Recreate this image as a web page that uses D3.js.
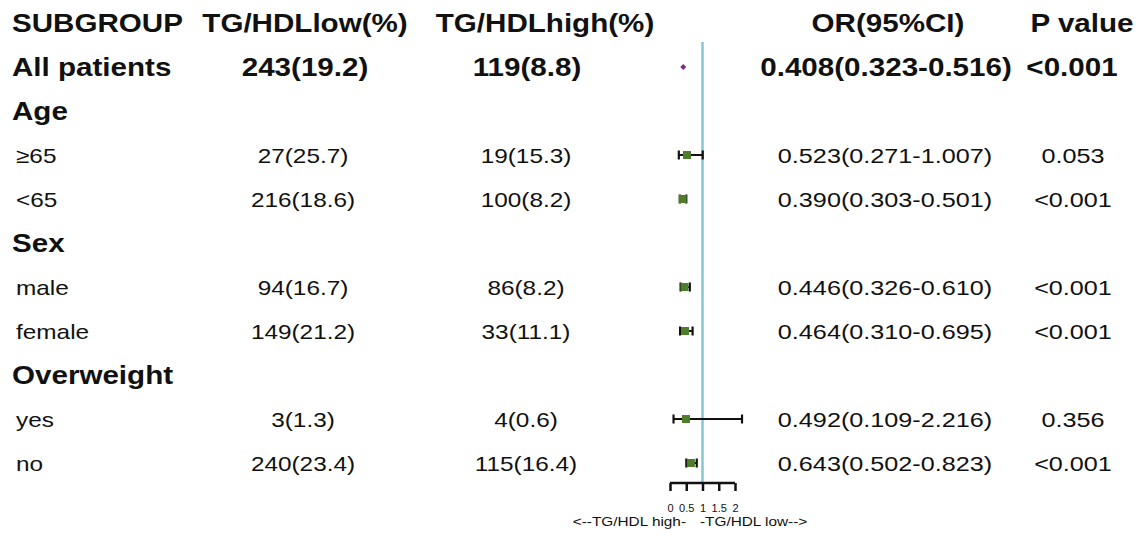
<!DOCTYPE html>
<html>
<head>
<meta charset="utf-8">
<script src="https://cdn.jsdelivr.net/npm/d3@7/dist/d3.min.js"></script>
<style>
  html, body { margin: 0; padding: 0; background: #fff; }
  svg { display: block; }
  text { font-family: "Liberation Sans", Arial, sans-serif; fill: #111; }
</style>
</head>
<body>
<svg id="chart" width="1143" height="540"></svg>
<script>
// ---- data ----
const headers = ["SUBGROUP", "TG/HDLlow(%)", "TG/HDLhigh(%)", "OR(95%CI)", "P value"];
const labels = ["All patients", "Age", "≥65", "<65", "Sex", "male", "female", "Overweight", "yes", "no"];
const rowType = ["total", "group", "sub", "sub", "group", "sub", "sub", "group", "sub", "sub"];
const lowCol  = ["243(19.2)", "", "27(25.7)", "216(18.6)", "", "94(16.7)", "149(21.2)", "", "3(1.3)", "240(23.4)"];
const highCol = ["119(8.8)", "", "19(15.3)", "100(8.2)", "", "86(8.2)", "33(11.1)", "", "4(0.6)", "115(16.4)"];
const orVal   = [0.408, null, 0.523, 0.390, null, 0.446, 0.464, null, 0.492, 0.643];
const ciLow   = [0.323, null, 0.271, 0.303, null, 0.326, 0.310, null, 0.109, 0.502];
const ciHigh  = [0.516, null, 1.007, 0.501, null, 0.610, 0.695, null, 2.216, 0.823];
const orText  = ["0.408(0.323-0.516)", "", "0.523(0.271-1.007)", "0.390(0.303-0.501)", "", "0.446(0.326-0.610)", "0.464(0.310-0.695)", "", "0.492(0.109-2.216)", "0.643(0.502-0.823)"];
const pText   = ["<0.001", "", "0.053", "<0.001", "", "<0.001", "<0.001", "", "0.356", "<0.001"];
const xTicks  = [0, 0.5, 1, 1.5, 2];
const xTickLabels = ["0", "0.5", "1", "1.5", "2"];
const axisCaptionLeft = "<--TG/HDL high-";
const axisCaptionRight = "-TG/HDL low-->";

// ---- layout ----
const svg = d3.select("#chart");
const x = d3.scaleLinear().domain([0, 2]).range([670, 735]);
const y = d3.scaleLinear().domain([0, 10]).range([23, 463]); // row 0 = header
const SX = 1.16;

function txt(str, cx, cy, size, weight, anchor, sx) {
  svg.append("text")
    .attr("transform", `translate(${cx},${cy + size * 0.36}) scale(${sx || SX},1)`)
    .attr("text-anchor", anchor)
    .style("font-size", size + "px")
    .style("font-weight", weight)
    .text(str);
}

// header
const BOLD = 25.5, REG = 21;
txt(headers[0], 12, y(0), BOLD, "bold", "start");
txt(headers[1], 305, y(0), BOLD, "bold", "middle");
txt(headers[2], 545, y(0), BOLD, "bold", "middle");
txt(headers[3], 888, y(0), BOLD, "bold", "middle");
txt(headers[4], 1082, y(0), BOLD, "bold", "middle");

labels.forEach((lab, i) => {
  const r = i + 1, t = rowType[i];
  const cy = y(r);
  if (t === "total") {
    txt(lab, 12, cy, BOLD, "bold", "start");
    txt(lowCol[i], 305, cy, BOLD, "bold", "middle");
    txt(highCol[i], 527, cy, BOLD, "bold", "middle");
    txt(orText[i], 886, cy, BOLD, "bold", "middle");
    txt(pText[i], 1072, cy, BOLD, "bold", "middle");
  } else if (t === "group") {
    txt(lab, 12, cy, BOLD, "bold", "start");
  } else {
    txt(lab, 16, cy, REG, "normal", "start");
    txt(lowCol[i], 303, cy, REG, "normal", "middle");
    txt(highCol[i], 526, cy, REG, "normal", "middle");
    txt(orText[i], 885, cy, REG, "normal", "middle", 1.2);
    txt(pText[i], 1073, cy, REG, "normal", "middle", 1.2);
  }
});

// reference line at OR = 1
svg.append("line")
  .attr("x1", x(1)).attr("x2", x(1))
  .attr("y1", 42).attr("y2", 483)
  .attr("stroke", "#86c6d0").attr("stroke-width", 2.5);

// CI lines and markers
labels.forEach((lab, i) => {
  if (orVal[i] == null) return;
  const cy = y(i + 1);
  if (rowType[i] === "total") {
    const s = 3;
    const cx = x(orVal[i]);
    svg.append("path")
      .attr("d", `M${cx - s},${cy} L${cx},${cy - s} L${cx + s},${cy} L${cx},${cy + s} Z`)
      .attr("fill", "#7a2f7e");
    return;
  }
  const g = svg.append("g");
  g.append("line")
    .attr("x1", x(ciLow[i])).attr("x2", x(ciHigh[i]))
    .attr("y1", cy).attr("y2", cy)
    .attr("stroke", "#111").attr("stroke-width", 2);
  [ciLow[i], ciHigh[i]].forEach(v => {
    g.append("line")
      .attr("x1", x(v)).attr("x2", x(v))
      .attr("y1", cy - 4.5).attr("y2", cy + 4.5)
      .attr("stroke", "#111").attr("stroke-width", 2.2);
  });
  g.append("rect")
    .attr("x", x(orVal[i]) - 4).attr("y", cy - 4)
    .attr("width", 8).attr("height", 8)
    .attr("fill", "#4f7d2a");
});

// x axis
const axisY = 483;
const axis = d3.axisBottom(x).tickValues(xTicks).tickSize(8)
  .tickFormat((d, i) => xTickLabels[i]);
const ag = svg.append("g").attr("transform", `translate(0,${axisY})`).call(axis);
ag.select(".domain").attr("stroke", "#111").attr("stroke-width", 2.5).attr("d", `M${x(0)},0H${x(2)}`);
ag.selectAll(".tick line").attr("stroke", "#111").attr("stroke-width", 2.5);
ag.selectAll(".tick text")
  .attr("y", 21)
  .style("font-family", "'Liberation Sans', Arial, sans-serif")
  .style("font-size", "11px")
  .attr("fill", "#333");

svg.append("text")
  .attr("transform", `translate(686,526) scale(1.28,1)`)
  .attr("text-anchor", "end")
  .style("font-size", "12px")
  .text(axisCaptionLeft);
svg.append("text")
  .attr("transform", `translate(700,526) scale(1.28,1)`)
  .attr("text-anchor", "start")
  .style("font-size", "12px")
  .text(axisCaptionRight);
</script>
</body>
</html>
